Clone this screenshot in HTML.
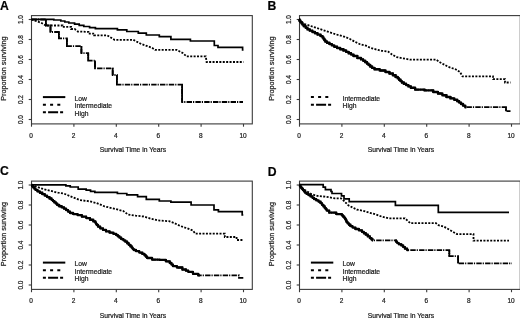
<!DOCTYPE html>
<html><head><meta charset="utf-8"><title>Survival curves</title>
<style>
html,body{margin:0;padding:0;background:#fff;width:520px;height:318px;overflow:hidden;}
svg{filter:grayscale(1);}
svg text{font-family:"Liberation Sans", sans-serif;stroke:#222;stroke-width:0.22px;}
</style></head>
<body>
<svg width="520" height="318" viewBox="0 0 520 318" font-family='"Liberation Sans", sans-serif' style="display:block">
<text x="0.0" y="9.5" font-size="12.2" font-weight="bold">A</text>
<rect x="31.50" y="15.60" width="220.80" height="108.30" fill="none" stroke="#3a3a3a" stroke-width="1.1"/>
<line x1="31.50" y1="123.90" x2="31.50" y2="126.70" stroke="#3a3a3a" stroke-width="1.1"/>
<text x="31.10" y="137.90" font-size="6.5" text-anchor="middle" fill="#222">0</text>
<line x1="73.90" y1="123.90" x2="73.90" y2="126.70" stroke="#3a3a3a" stroke-width="1.1"/>
<text x="73.50" y="137.90" font-size="6.5" text-anchor="middle" fill="#222">2</text>
<line x1="116.30" y1="123.90" x2="116.30" y2="126.70" stroke="#3a3a3a" stroke-width="1.1"/>
<text x="115.90" y="137.90" font-size="6.5" text-anchor="middle" fill="#222">4</text>
<line x1="158.70" y1="123.90" x2="158.70" y2="126.70" stroke="#3a3a3a" stroke-width="1.1"/>
<text x="158.30" y="137.90" font-size="6.5" text-anchor="middle" fill="#222">6</text>
<line x1="201.10" y1="123.90" x2="201.10" y2="126.70" stroke="#3a3a3a" stroke-width="1.1"/>
<text x="200.70" y="137.90" font-size="6.5" text-anchor="middle" fill="#222">8</text>
<line x1="243.50" y1="123.90" x2="243.50" y2="126.70" stroke="#3a3a3a" stroke-width="1.1"/>
<text x="243.10" y="137.90" font-size="6.5" text-anchor="middle" fill="#222">10</text>
<line x1="28.70" y1="119.50" x2="31.50" y2="119.50" stroke="#3a3a3a" stroke-width="1.1"/>
<text x="0" y="0" font-size="6.5" text-anchor="middle" fill="#222" transform="translate(23.40,119.60) rotate(-90)">0.0</text>
<line x1="28.70" y1="99.50" x2="31.50" y2="99.50" stroke="#3a3a3a" stroke-width="1.1"/>
<text x="0" y="0" font-size="6.5" text-anchor="middle" fill="#222" transform="translate(23.40,99.60) rotate(-90)">0.2</text>
<line x1="28.70" y1="79.50" x2="31.50" y2="79.50" stroke="#3a3a3a" stroke-width="1.1"/>
<text x="0" y="0" font-size="6.5" text-anchor="middle" fill="#222" transform="translate(23.40,79.60) rotate(-90)">0.4</text>
<line x1="28.70" y1="59.50" x2="31.50" y2="59.50" stroke="#3a3a3a" stroke-width="1.1"/>
<text x="0" y="0" font-size="6.5" text-anchor="middle" fill="#222" transform="translate(23.40,59.60) rotate(-90)">0.6</text>
<line x1="28.70" y1="39.50" x2="31.50" y2="39.50" stroke="#3a3a3a" stroke-width="1.1"/>
<text x="0" y="0" font-size="6.5" text-anchor="middle" fill="#222" transform="translate(23.40,39.60) rotate(-90)">0.8</text>
<line x1="28.70" y1="19.50" x2="31.50" y2="19.50" stroke="#3a3a3a" stroke-width="1.1"/>
<text x="0" y="0" font-size="6.5" text-anchor="middle" fill="#222" transform="translate(23.40,19.60) rotate(-90)">1.0</text>
<text x="133.00" y="152.30" font-size="6.75" text-anchor="middle" fill="#222">Survival Time in Years</text>
<text x="0" y="0" font-size="7.3" text-anchor="middle" fill="#222" transform="translate(6.00,68.60) rotate(-90)">Proportion surviving</text>
<line x1="42.90" y1="97.10" x2="65.30" y2="97.10" stroke="#000" stroke-width="2"/>
<text x="74.60" y="100.60" font-size="6.75" fill="#222">Low</text>
<line x1="42.90" y1="104.70" x2="62.00" y2="104.70" stroke="#000" stroke-width="2" stroke-dasharray="3 4.2"/>
<text x="74.60" y="108.20" font-size="6.75" fill="#222">Intermediate</text>
<line x1="42.90" y1="112.30" x2="65.30" y2="112.30" stroke="#000" stroke-width="2" stroke-dasharray="3 2.2 10 2"/>
<text x="74.60" y="115.80" font-size="6.75" fill="#222">High</text>
<path d="M31.50,19.30H53.80H53.80V20.00H53.80H60.80H60.80V21.00H60.80H64.80H64.80V22.00H64.80H68.80H68.80V23.00H68.80H74.60H74.60V24.20H74.60H79.20H79.20V25.30H79.20H83.80H83.80V26.50H83.80H89.60H89.60V27.60H89.60H95.40H95.40V28.60H95.40H117.40H117.40V29.90H117.40H126.80H126.80V31.50H126.80H138.30H138.30V33.10H138.30H146.30H146.30V35.00H146.30H159.30H159.30V36.60H159.30H170.90H170.90V39.40H170.90H190.40H190.40V41.00H190.40H214.30H214.30V45.50H214.30H218.00H218.00V47.30H218.00H242.60H242.60V50.00H242.60H243.50" fill="none" stroke="#000" stroke-width="1.7"/>
<path d="M31.50,19.50L40.90,22.70L45.80,25.50H62.50L62.50,26.90H71.10L71.10,29.00H74.60L77.80,31.50L88.40,31.90L88.40,33.60H94.20L94.20,35.30H107.20L114.50,39.80H133.30L141.20,44.00L152.10,47.80L155.00,49.80H176.50L182.70,53.00L186.60,56.40H205.80L206.60,62.00H243.50" fill="none" stroke="#000" stroke-width="1.8" stroke-dasharray="2 1.4"/>
<path d="M31.50,19.50H45.90H45.90V25.50H45.90H50.50H50.50V32.00H50.50H58.90H58.90V38.40H58.90H66.90H66.90V46.10H66.90H81.40H81.40V53.20H81.40H88.20H88.20V60.60H88.20H95.00H95.00V68.30H95.00H112.70H112.70V75.00H112.70H116.90H116.90V84.60H116.90H182.10H182.10V102.00H182.10H243.00" fill="none" stroke="#000" stroke-width="1.8" stroke-dasharray="5.4 1 1.2 1.2"/>
<path d="M45.90,19.50V25.50M50.50,25.50V32.00M58.90,32.00V38.40M66.90,38.40V46.10M81.40,46.10V53.20M88.20,53.20V60.60M95.00,60.60V68.30M112.70,68.30V75.00M116.90,75.00V84.60M182.10,84.60V102.00" fill="none" stroke="#000" stroke-width="1.8"/>
<text x="267.6" y="9.6" font-size="12.2" font-weight="bold">B</text>
<rect x="299.50" y="15.60" width="220.80" height="108.30" fill="none" stroke="#3a3a3a" stroke-width="1.1"/>
<line x1="299.50" y1="123.90" x2="299.50" y2="126.70" stroke="#3a3a3a" stroke-width="1.1"/>
<text x="299.10" y="137.90" font-size="6.5" text-anchor="middle" fill="#222">0</text>
<line x1="341.90" y1="123.90" x2="341.90" y2="126.70" stroke="#3a3a3a" stroke-width="1.1"/>
<text x="341.50" y="137.90" font-size="6.5" text-anchor="middle" fill="#222">2</text>
<line x1="384.30" y1="123.90" x2="384.30" y2="126.70" stroke="#3a3a3a" stroke-width="1.1"/>
<text x="383.90" y="137.90" font-size="6.5" text-anchor="middle" fill="#222">4</text>
<line x1="426.70" y1="123.90" x2="426.70" y2="126.70" stroke="#3a3a3a" stroke-width="1.1"/>
<text x="426.30" y="137.90" font-size="6.5" text-anchor="middle" fill="#222">6</text>
<line x1="469.10" y1="123.90" x2="469.10" y2="126.70" stroke="#3a3a3a" stroke-width="1.1"/>
<text x="468.70" y="137.90" font-size="6.5" text-anchor="middle" fill="#222">8</text>
<line x1="511.50" y1="123.90" x2="511.50" y2="126.70" stroke="#3a3a3a" stroke-width="1.1"/>
<text x="511.10" y="137.90" font-size="6.5" text-anchor="middle" fill="#222">10</text>
<line x1="296.70" y1="119.50" x2="299.50" y2="119.50" stroke="#3a3a3a" stroke-width="1.1"/>
<text x="0" y="0" font-size="6.5" text-anchor="middle" fill="#222" transform="translate(291.40,119.60) rotate(-90)">0.0</text>
<line x1="296.70" y1="99.50" x2="299.50" y2="99.50" stroke="#3a3a3a" stroke-width="1.1"/>
<text x="0" y="0" font-size="6.5" text-anchor="middle" fill="#222" transform="translate(291.40,99.60) rotate(-90)">0.2</text>
<line x1="296.70" y1="79.50" x2="299.50" y2="79.50" stroke="#3a3a3a" stroke-width="1.1"/>
<text x="0" y="0" font-size="6.5" text-anchor="middle" fill="#222" transform="translate(291.40,79.60) rotate(-90)">0.4</text>
<line x1="296.70" y1="59.50" x2="299.50" y2="59.50" stroke="#3a3a3a" stroke-width="1.1"/>
<text x="0" y="0" font-size="6.5" text-anchor="middle" fill="#222" transform="translate(291.40,59.60) rotate(-90)">0.6</text>
<line x1="296.70" y1="39.50" x2="299.50" y2="39.50" stroke="#3a3a3a" stroke-width="1.1"/>
<text x="0" y="0" font-size="6.5" text-anchor="middle" fill="#222" transform="translate(291.40,39.60) rotate(-90)">0.8</text>
<line x1="296.70" y1="19.50" x2="299.50" y2="19.50" stroke="#3a3a3a" stroke-width="1.1"/>
<text x="0" y="0" font-size="6.5" text-anchor="middle" fill="#222" transform="translate(291.40,19.60) rotate(-90)">1.0</text>
<text x="401.00" y="152.30" font-size="6.75" text-anchor="middle" fill="#222">Survival Time in Years</text>
<text x="0" y="0" font-size="7.3" text-anchor="middle" fill="#222" transform="translate(274.00,68.60) rotate(-90)">Proportion surviving</text>
<line x1="310.90" y1="97.10" x2="330.00" y2="97.10" stroke="#000" stroke-width="2" stroke-dasharray="3 4.2"/>
<text x="342.60" y="100.60" font-size="6.75" fill="#222">Intermediate</text>
<line x1="310.90" y1="104.70" x2="333.30" y2="104.70" stroke="#000" stroke-width="2" stroke-dasharray="3 2.2 10 2"/>
<text x="342.60" y="108.20" font-size="6.75" fill="#222">High</text>
<path d="M299.00,19.50L304.70,24.00L316.20,27.80L327.80,31.70L335.50,34.20L345.00,36.90L350.00,39.00L355.00,41.80L360.00,44.20L366.00,45.70L370.00,47.70L378.00,50.00L381.60,50.80L388.00,51.50L392.00,54.50L396.20,57.00L402.00,58.20L410.00,59.60H436.00L440.30,62.50L448.20,66.80L456.00,69.50L460.00,72.00L462.50,76.40H493.00L493.00,79.20H505.00L505.00,82.50H510.50" fill="none" stroke="#000" stroke-width="1.8" stroke-dasharray="2 1.4"/>
<path d="M299.00,19.50H299.48V20.77H300.43V22.05H301.38V23.33H302.32V24.60H302.80H303.75V26.20H305.65V27.80H307.55V29.40H308.50H309.78V30.67H312.35V31.93H314.92V33.20H316.20H317.65V34.65H320.55V36.10H322.00H322.48V37.45H323.43V38.80H324.38V40.15H325.32V41.50H325.80H327.01V42.80H329.44V44.10H331.86V45.40H334.29V46.70H335.50H337.08V47.97H340.25V49.23H343.42V50.50H345.00H346.21V51.88H348.64V53.25H351.06V54.62H353.49V56.00H354.70H357.35V58.00H360.00H361.05V59.40H363.15V60.80H365.25V62.20H366.30H367.08V63.63H368.65V65.07H370.22V66.50H371.00H372.18V67.90H374.52V69.30H375.70H379.65V70.50H383.60H385.55V72.00H389.45V73.50H391.40H392.80V75.25H395.60V77.00H397.00H397.70V78.38H399.10V79.75H400.50V81.12H401.90V82.50H402.60H403.78V83.80H406.12V85.10H408.48V86.40H410.82V87.70H412.00H415.15V89.60H418.30H424.60V90.40H430.90H433.25V91.95H437.95V93.50H440.30H442.35V95.25H446.45V97.00H448.50H450.45V98.40H454.35V99.80H456.30H457.25V101.20H459.15V102.60H461.05V104.00H462.00H463.10V105.60H465.30V107.20H466.40H506.00H506.00V111.20H506.00H510.50" fill="none" stroke="#000" stroke-width="1.8" stroke-dasharray="5.4 1 1.2 1.2"/>
<path d="M506.00,107.20V111.20" fill="none" stroke="#000" stroke-width="1.8"/>
<path d="M299.00,19.50H299.48V20.77H300.43V22.05H301.38V23.33H302.32V24.60H302.80H303.75V26.20H305.65V27.80H307.55V29.40H308.50H309.78V30.67H312.35V31.93H314.92V33.20H316.20H317.65V34.65H320.55V36.10H322.00H322.48V37.45H323.43V38.80H324.38V40.15H325.32V41.50H325.80H327.01V42.80H329.44V44.10H331.86V45.40H334.29V46.70H335.50H337.08V47.97H340.25V49.23H343.42V50.50H345.00H346.21V51.88H348.64V53.25H351.06V54.62H353.49V56.00H354.70H357.35V58.00H360.00H361.05V59.40H363.15V60.80H365.25V62.20H366.30H367.08V63.63H368.65V65.07H370.22V66.50H371.00H372.18V67.90H374.52V69.30H375.70H379.65V70.50H383.60H385.55V72.00H389.45V73.50H391.40H392.80V75.25H395.60V77.00H397.00H397.70V78.38H399.10V79.75H400.50V81.12H401.90V82.50H402.60H403.78V83.80H406.12V85.10H408.48V86.40H410.82V87.70H412.00H415.15V89.60H418.30H424.60V90.40H430.90H433.25V91.95H437.95V93.50H440.30H442.35V95.25H446.45V97.00H448.50H450.45V98.40H454.35V99.80H456.30H457.25V101.20H459.15V102.60H461.05V104.00H462.00H463.10V105.60H465.30V107.20H466.40" fill="none" stroke="#000" stroke-width="2.4" stroke-linejoin="round"/>
<text x="0.0" y="175.4" font-size="12.2" font-weight="bold">C</text>
<rect x="31.50" y="181.10" width="220.80" height="108.30" fill="none" stroke="#3a3a3a" stroke-width="1.1"/>
<line x1="31.50" y1="289.40" x2="31.50" y2="292.20" stroke="#3a3a3a" stroke-width="1.1"/>
<text x="31.10" y="303.40" font-size="6.5" text-anchor="middle" fill="#222">0</text>
<line x1="73.90" y1="289.40" x2="73.90" y2="292.20" stroke="#3a3a3a" stroke-width="1.1"/>
<text x="73.50" y="303.40" font-size="6.5" text-anchor="middle" fill="#222">2</text>
<line x1="116.30" y1="289.40" x2="116.30" y2="292.20" stroke="#3a3a3a" stroke-width="1.1"/>
<text x="115.90" y="303.40" font-size="6.5" text-anchor="middle" fill="#222">4</text>
<line x1="158.70" y1="289.40" x2="158.70" y2="292.20" stroke="#3a3a3a" stroke-width="1.1"/>
<text x="158.30" y="303.40" font-size="6.5" text-anchor="middle" fill="#222">6</text>
<line x1="201.10" y1="289.40" x2="201.10" y2="292.20" stroke="#3a3a3a" stroke-width="1.1"/>
<text x="200.70" y="303.40" font-size="6.5" text-anchor="middle" fill="#222">8</text>
<line x1="243.50" y1="289.40" x2="243.50" y2="292.20" stroke="#3a3a3a" stroke-width="1.1"/>
<text x="243.10" y="303.40" font-size="6.5" text-anchor="middle" fill="#222">10</text>
<line x1="28.70" y1="285.00" x2="31.50" y2="285.00" stroke="#3a3a3a" stroke-width="1.1"/>
<text x="0" y="0" font-size="6.5" text-anchor="middle" fill="#222" transform="translate(23.40,285.10) rotate(-90)">0.0</text>
<line x1="28.70" y1="265.00" x2="31.50" y2="265.00" stroke="#3a3a3a" stroke-width="1.1"/>
<text x="0" y="0" font-size="6.5" text-anchor="middle" fill="#222" transform="translate(23.40,265.10) rotate(-90)">0.2</text>
<line x1="28.70" y1="245.00" x2="31.50" y2="245.00" stroke="#3a3a3a" stroke-width="1.1"/>
<text x="0" y="0" font-size="6.5" text-anchor="middle" fill="#222" transform="translate(23.40,245.10) rotate(-90)">0.4</text>
<line x1="28.70" y1="225.00" x2="31.50" y2="225.00" stroke="#3a3a3a" stroke-width="1.1"/>
<text x="0" y="0" font-size="6.5" text-anchor="middle" fill="#222" transform="translate(23.40,225.10) rotate(-90)">0.6</text>
<line x1="28.70" y1="205.00" x2="31.50" y2="205.00" stroke="#3a3a3a" stroke-width="1.1"/>
<text x="0" y="0" font-size="6.5" text-anchor="middle" fill="#222" transform="translate(23.40,205.10) rotate(-90)">0.8</text>
<line x1="28.70" y1="185.00" x2="31.50" y2="185.00" stroke="#3a3a3a" stroke-width="1.1"/>
<text x="0" y="0" font-size="6.5" text-anchor="middle" fill="#222" transform="translate(23.40,185.10) rotate(-90)">1.0</text>
<text x="133.00" y="317.80" font-size="6.75" text-anchor="middle" fill="#222">Survival Time in Years</text>
<text x="0" y="0" font-size="7.3" text-anchor="middle" fill="#222" transform="translate(6.00,234.10) rotate(-90)">Proportion surviving</text>
<line x1="42.90" y1="262.60" x2="65.30" y2="262.60" stroke="#000" stroke-width="2"/>
<text x="74.60" y="266.10" font-size="6.75" fill="#222">Low</text>
<line x1="42.90" y1="270.20" x2="62.00" y2="270.20" stroke="#000" stroke-width="2" stroke-dasharray="3 4.2"/>
<text x="74.60" y="273.70" font-size="6.75" fill="#222">Intermediate</text>
<line x1="42.90" y1="277.80" x2="65.30" y2="277.80" stroke="#000" stroke-width="2" stroke-dasharray="3 2.2 10 2"/>
<text x="74.60" y="281.30" font-size="6.75" fill="#222">High</text>
<path d="M31.50,184.80H63.70H65.88V185.90H70.23V187.00H72.40H78.20V189.10H84.00H86.17V190.20H90.53V191.30H92.70H94.85V192.30H97.00H117.40H117.40V193.50H117.40H126.80H126.80V194.90H126.80H137.60H137.60V196.70H137.60H146.30H146.30V199.30H146.30H159.30H159.30V201.00H159.30H170.90H170.90V202.20H170.90H191.10H191.10V205.00H191.10H214.00H214.00V209.80H214.00H218.40H218.40V211.60H218.40H242.20H242.20V215.00H242.20H243.30" fill="none" stroke="#000" stroke-width="1.7"/>
<path d="M31.50,185.00L43.50,189.10L58.00,192.70L63.70,193.50L72.40,197.10L79.70,200.00L89.80,201.40L96.60,203.10L104.40,206.30L113.90,208.60L123.30,211.00L128.00,214.50L135.90,215.70L143.70,216.50L151.60,218.90L157.90,220.40L168.90,221.20L173.60,222.80L180.00,225.90L187.10,228.30L193.00,230.60L195.30,233.70H224.80L224.80,237.00H236.60L236.60,240.00H243.00" fill="none" stroke="#000" stroke-width="1.8" stroke-dasharray="2 1.4"/>
<path d="M31.50,185.00H32.09V186.22H33.26V187.45H34.44V188.68H35.61V189.90H36.20H37.42V191.33H39.85V192.77H42.28V194.20H43.50H44.70V195.63H47.10V197.07H49.50V198.50H50.70H51.43V199.80H52.89V201.10H54.35V202.40H55.81V203.70H57.27V205.00H58.00H59.20V206.23H61.60V207.47H64.00V208.70H65.20H66.17V210.13H68.10V211.57H70.03V213.00H71.00H73.17V214.10H77.53V215.20H79.70H81.85V216.65H86.15V218.10H88.30H89.97V219.75H93.33V221.40H95.00H95.33V222.60H96.00V223.80H96.67V225.00H97.00H98.08V226.65H100.22V228.30H101.30H102.88V229.85H106.02V231.40H107.60H109.55V232.60H113.45V233.80H115.40H116.20V235.10H117.80V236.40H119.40V237.70H120.20H121.23V239.03H123.30V240.37H125.37V241.70H126.40H127.20V243.27H128.80V244.83H130.40V246.40H131.20H131.72V247.60H132.75V248.80H133.78V250.00H134.30H135.95V251.20H137.60H139.18V252.55H142.32V253.90H143.90H144.55V255.27H145.85V256.63H147.15V258.00H147.80H152.10V259.60H156.40H159.55V259.90H162.70H165.85V261.40H169.00H169.78V263.00H171.35V264.60H172.92V266.20H173.70H176.85V267.50H180.00H182.35V269.50H184.70H185.88V270.70H188.22V271.90H189.40H192.95V273.80H196.50H198.25V275.40H200.00H239.00H239.00V277.80H239.00H243.70" fill="none" stroke="#000" stroke-width="1.8" stroke-dasharray="5.4 1 1.2 1.2"/>
<path d="M31.50,185.00H32.09V186.22H33.26V187.45H34.44V188.68H35.61V189.90H36.20H37.42V191.33H39.85V192.77H42.28V194.20H43.50H44.70V195.63H47.10V197.07H49.50V198.50H50.70H51.43V199.80H52.89V201.10H54.35V202.40H55.81V203.70H57.27V205.00H58.00H59.20V206.23H61.60V207.47H64.00V208.70H65.20H66.17V210.13H68.10V211.57H70.03V213.00H71.00H73.17V214.10H77.53V215.20H79.70H81.85V216.65H86.15V218.10H88.30H89.97V219.75H93.33V221.40H95.00H95.33V222.60H96.00V223.80H96.67V225.00H97.00H98.08V226.65H100.22V228.30H101.30H102.88V229.85H106.02V231.40H107.60H109.55V232.60H113.45V233.80H115.40H116.20V235.10H117.80V236.40H119.40V237.70H120.20H121.23V239.03H123.30V240.37H125.37V241.70H126.40H127.20V243.27H128.80V244.83H130.40V246.40H131.20H131.72V247.60H132.75V248.80H133.78V250.00H134.30H135.95V251.20H137.60H139.18V252.55H142.32V253.90H143.90H144.55V255.27H145.85V256.63H147.15V258.00H147.80H152.10V259.60H156.40H159.55V259.90H162.70H165.85V261.40H169.00H169.78V263.00H171.35V264.60H172.92V266.20H173.70H176.85V267.50H180.00H182.35V269.50H184.70H185.88V270.70H188.22V271.90H189.40H192.95V273.80H196.50H198.25V275.40H200.00" fill="none" stroke="#000" stroke-width="2.3" stroke-linejoin="round"/>
<text x="267.7" y="175.9" font-size="12.2" font-weight="bold">D</text>
<rect x="299.50" y="181.10" width="220.80" height="108.30" fill="none" stroke="#3a3a3a" stroke-width="1.1"/>
<line x1="299.50" y1="289.40" x2="299.50" y2="292.20" stroke="#3a3a3a" stroke-width="1.1"/>
<text x="299.10" y="303.40" font-size="6.5" text-anchor="middle" fill="#222">0</text>
<line x1="341.90" y1="289.40" x2="341.90" y2="292.20" stroke="#3a3a3a" stroke-width="1.1"/>
<text x="341.50" y="303.40" font-size="6.5" text-anchor="middle" fill="#222">2</text>
<line x1="384.30" y1="289.40" x2="384.30" y2="292.20" stroke="#3a3a3a" stroke-width="1.1"/>
<text x="383.90" y="303.40" font-size="6.5" text-anchor="middle" fill="#222">4</text>
<line x1="426.70" y1="289.40" x2="426.70" y2="292.20" stroke="#3a3a3a" stroke-width="1.1"/>
<text x="426.30" y="303.40" font-size="6.5" text-anchor="middle" fill="#222">6</text>
<line x1="469.10" y1="289.40" x2="469.10" y2="292.20" stroke="#3a3a3a" stroke-width="1.1"/>
<text x="468.70" y="303.40" font-size="6.5" text-anchor="middle" fill="#222">8</text>
<line x1="511.50" y1="289.40" x2="511.50" y2="292.20" stroke="#3a3a3a" stroke-width="1.1"/>
<text x="511.10" y="303.40" font-size="6.5" text-anchor="middle" fill="#222">10</text>
<line x1="296.70" y1="285.00" x2="299.50" y2="285.00" stroke="#3a3a3a" stroke-width="1.1"/>
<text x="0" y="0" font-size="6.5" text-anchor="middle" fill="#222" transform="translate(291.40,285.10) rotate(-90)">0.0</text>
<line x1="296.70" y1="265.00" x2="299.50" y2="265.00" stroke="#3a3a3a" stroke-width="1.1"/>
<text x="0" y="0" font-size="6.5" text-anchor="middle" fill="#222" transform="translate(291.40,265.10) rotate(-90)">0.2</text>
<line x1="296.70" y1="245.00" x2="299.50" y2="245.00" stroke="#3a3a3a" stroke-width="1.1"/>
<text x="0" y="0" font-size="6.5" text-anchor="middle" fill="#222" transform="translate(291.40,245.10) rotate(-90)">0.4</text>
<line x1="296.70" y1="225.00" x2="299.50" y2="225.00" stroke="#3a3a3a" stroke-width="1.1"/>
<text x="0" y="0" font-size="6.5" text-anchor="middle" fill="#222" transform="translate(291.40,225.10) rotate(-90)">0.6</text>
<line x1="296.70" y1="205.00" x2="299.50" y2="205.00" stroke="#3a3a3a" stroke-width="1.1"/>
<text x="0" y="0" font-size="6.5" text-anchor="middle" fill="#222" transform="translate(291.40,205.10) rotate(-90)">0.8</text>
<line x1="296.70" y1="185.00" x2="299.50" y2="185.00" stroke="#3a3a3a" stroke-width="1.1"/>
<text x="0" y="0" font-size="6.5" text-anchor="middle" fill="#222" transform="translate(291.40,185.10) rotate(-90)">1.0</text>
<text x="401.00" y="317.80" font-size="6.75" text-anchor="middle" fill="#222">Survival Time in Years</text>
<text x="0" y="0" font-size="7.3" text-anchor="middle" fill="#222" transform="translate(274.00,234.10) rotate(-90)">Proportion surviving</text>
<line x1="310.90" y1="262.60" x2="333.30" y2="262.60" stroke="#000" stroke-width="2"/>
<text x="342.60" y="266.10" font-size="6.75" fill="#222">Low</text>
<line x1="310.90" y1="270.20" x2="330.00" y2="270.20" stroke="#000" stroke-width="2" stroke-dasharray="3 4.2"/>
<text x="342.60" y="273.70" font-size="6.75" fill="#222">Intermediate</text>
<line x1="310.90" y1="277.80" x2="333.30" y2="277.80" stroke="#000" stroke-width="2" stroke-dasharray="3 2.2 10 2"/>
<text x="342.60" y="281.30" font-size="6.75" fill="#222">High</text>
<path d="M299.50,184.60H323.20H323.20V187.20H323.20H325.40H325.40V189.60H325.40H331.00H331.00V191.50H331.00H332.00H332.00V193.50H332.00H341.50H341.50V195.90H341.50H344.00H344.00V198.80H344.00H349.20H349.20V201.60H349.20H395.40H395.40V205.30H395.40H438.30H438.30V212.40H438.30H509.00" fill="none" stroke="#000" stroke-width="1.7"/>
<path d="M299.50,185.00L301.30,187.00L305.70,190.60L311.50,194.20L317.30,195.90L326.00,196.80L335.00,198.30H341.00L343.80,200.70L348.30,205.30L356.80,209.60L362.40,210.60L369.50,212.70L375.70,214.40L382.00,216.70L388.30,218.30H405.00L410.30,223.20H436.00L438.50,225.20L443.80,226.60L449.30,229.70L457.00,234.10H473.50L473.50,240.70H509.00" fill="none" stroke="#000" stroke-width="1.8" stroke-dasharray="2 1.4"/>
<path d="M299.50,185.00H299.95V186.35H300.85V187.70H301.30H301.85V188.95H302.95V190.20H304.05V191.45H305.15V192.70H305.70H306.67V193.93H308.60V195.17H310.53V196.40H311.50H312.38V197.80H314.12V199.20H315.00H316.20V200.40H318.60V201.60H319.80H320.53V203.20H322.00V204.80H323.47V206.40H324.20H324.68V207.80H325.65V209.20H326.62V210.60H327.10H329.20V212.70H331.30H336.25V214.10H341.20H341.80V215.30H343.00V216.50H344.20V217.70H344.80H345.15V219.10H345.85V220.50H346.55V221.90H346.90H347.60V223.33H349.00V224.77H350.40V226.20H351.10H352.53V227.60H355.38V229.00H356.80H358.90V230.40H361.00H361.95V231.83H363.85V233.27H365.75V234.70H366.70H367.75V236.45H369.85V238.20H370.90H371.42V239.25H372.48V240.30H373.00H395.40H395.97V241.70H397.12V243.10H397.70H398.90V244.25H401.30V245.40H402.50H403.27V247.00H404.83V248.60H405.60H407.15V250.20H408.70H449.30H449.30V256.20H449.30H458.10H458.10V263.40H458.10H512.00" fill="none" stroke="#000" stroke-width="1.8" stroke-dasharray="5.4 1 1.2 1.2"/>
<path d="M449.30,250.20V256.20M458.10,256.20V263.40" fill="none" stroke="#000" stroke-width="1.8"/>
<path d="M299.50,185.00H299.95V186.35H300.85V187.70H301.30H301.85V188.95H302.95V190.20H304.05V191.45H305.15V192.70H305.70H306.67V193.93H308.60V195.17H310.53V196.40H311.50H312.38V197.80H314.12V199.20H315.00H316.20V200.40H318.60V201.60H319.80H320.53V203.20H322.00V204.80H323.47V206.40H324.20H324.68V207.80H325.65V209.20H326.62V210.60H327.10H329.20V212.70H331.30H336.25V214.10H341.20H341.80V215.30H343.00V216.50H344.20V217.70H344.80H345.15V219.10H345.85V220.50H346.55V221.90H346.90H347.60V223.33H349.00V224.77H350.40V226.20H351.10H352.53V227.60H355.38V229.00H356.80H358.90V230.40H361.00H361.95V231.83H363.85V233.27H365.75V234.70H366.70H367.75V236.45H369.85V238.20H370.90H371.42V239.25H372.48V240.30H373.00" fill="none" stroke="#000" stroke-width="2.3" stroke-linejoin="round"/>
<path d="M395.40,240.30H395.97V241.70H397.12V243.10H397.70H398.90V244.25H401.30V245.40H402.50H403.27V247.00H404.83V248.60H405.60H407.15V250.20H408.70" fill="none" stroke="#000" stroke-width="2.2" stroke-linejoin="round"/>
</svg>
</body></html>
